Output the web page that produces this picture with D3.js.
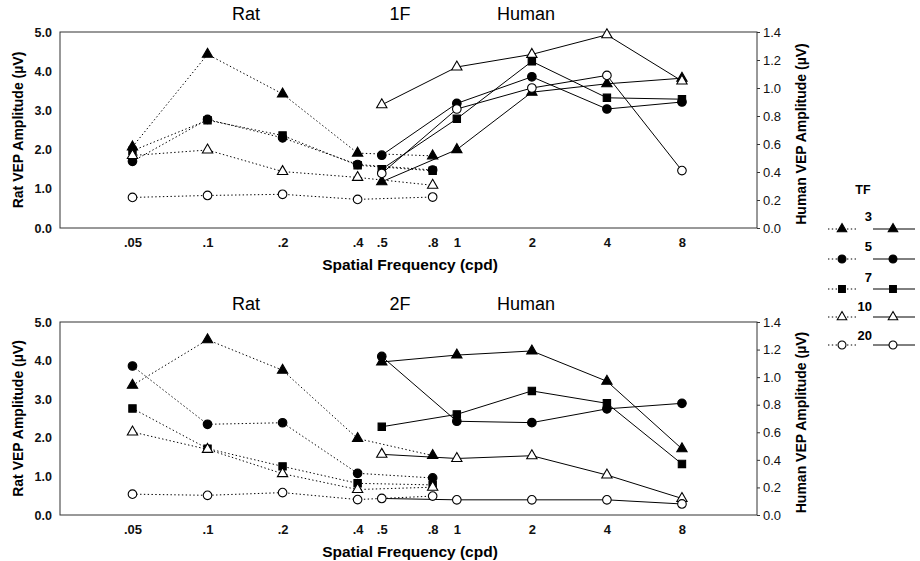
<!DOCTYPE html>
<html>
<head>
<meta charset="utf-8">
<script src="https://cdn.jsdelivr.net/npm/d3@7"></script>
<style>
  html, body { margin: 0; padding: 0; background: #fff; }
  svg { display: block; font-family: "Liberation Sans", Arial, Helvetica, sans-serif; }
</style>
</head>
<body>
<svg id="chart" width="920" height="561"></svg>
<script>
// Temporal frequencies (Hz) shown in the legend, one series each
const tfLabels = ["3", "5", "7", "10", "20"];
const tfSymbols = ["triangle", "circle", "square", "triangle", "circle"];
const tfFilled = [true, true, true, false, false];

// Spatial frequencies (cpd) sampled for each species
const ratFreqs = [0.05, 0.1, 0.2, 0.4, 0.8];
const humanFreqs = [0.5, 1, 2, 4, 8];

// X tick values and labels
const xTickValues = [0.05, 0.1, 0.2, 0.4, 0.5, 0.8, 1, 2, 4, 8];
const xTickLabels = [".05", ".1", ".2", ".4", ".5", ".8", "1", "2", "4", "8"];

// Y tick values (left: rat, right: human)
const ratTicks = [0, 1, 2, 3, 4, 5];
const humanTicks = [0, 0.2, 0.4, 0.6, 0.8, 1.0, 1.2, 1.4];

// 1F response amplitudes (µV), one row per TF: 3, 5, 7, 10, 20
const rat1F = [
  [2.07, 4.43, 3.42, 1.91, 1.84],
  [1.70, 2.77, 2.30, 1.62, 1.48],
  [1.97, 2.75, 2.36, 1.60, 1.46],
  [1.85, 1.99, 1.44, 1.29, 1.09],
  [0.78, 0.83, 0.86, 0.73, 0.79]
];
const human1F = [
  [0.33, 0.56, 0.97, 1.03, 1.07],
  [0.52, 0.89, 1.08, 0.85, 0.90],
  [0.42, 0.78, 1.19, 0.93, 0.92],
  [0.88, 1.15, 1.24, 1.38, 1.05],
  [0.39, 0.85, 1.00, 1.09, 0.41]
];

// 2F response amplitudes (µV), one row per TF: 3, 5, 7, 10, 20
const rat2F = [
  [3.36, 4.54, 3.75, 1.98, 1.54],
  [3.86, 2.35, 2.39, 1.08, 0.96],
  [2.76, 1.72, 1.26, 0.82, 0.78],
  [2.15, 1.70, 1.07, 0.66, 0.72],
  [0.54, 0.51, 0.58, 0.40, 0.49]
];
const human2F = [
  [1.11, 1.16, 1.19, 0.97, 0.48],
  [1.15, 0.68, 0.67, 0.77, 0.81],
  [0.64, 0.73, 0.90, 0.81, 0.37],
  [0.44, 0.41, 0.43, 0.29, 0.12],
  [0.12, 0.11, 0.11, 0.11, 0.08]
];

const svg = d3.select("#chart");
const FONT = "'Liberation Sans', Arial, Helvetica, sans-serif";

const plotLeft = 60, plotRight = 757;
const x = d3.scaleLog().domain([0.0256, 16]).range([plotLeft, plotRight]);

const symbolTypes = {
  triangle: d3.symbolTriangle,
  circle: d3.symbolCircle,
  square: d3.symbolSquare
};
const symbolSizes = { triangle: 46, circle: 58, square: 54 };

function markerPath(i, scale) {
  const s = tfSymbols[i];
  return d3.symbol().type(symbolTypes[s]).size(symbolSizes[s] * (scale || 1))();
}

function drawMarker(g, i, cx, cy, scale) {
  g.append("path")
    .attr("d", markerPath(i, scale))
    .attr("transform", `translate(${cx},${cy})`)
    .attr("fill", tfFilled[i] ? "#000" : "#fff")
    .attr("stroke", "#000")
    .attr("stroke-width", 1.1);
}

function drawPanel(top, bottom, title, ratData, humanData) {
  const g = svg.append("g");
  const yRat = d3.scaleLinear().domain([0, 5]).range([bottom, top]);
  const yHum = d3.scaleLinear().domain([0, 1.4]).range([bottom, top]);

  // frame
  g.append("rect")
    .attr("x", plotLeft).attr("y", top)
    .attr("width", plotRight - plotLeft).attr("height", bottom - top)
    .attr("fill", "none").attr("stroke", "#333").attr("stroke-width", 1);

  // left axis (rat)
  const leftAxis = d3.axisLeft(yRat).tickValues(ratTicks)
    .tickFormat(d3.format(".1f")).tickSize(0).tickPadding(8);
  const la = g.append("g").attr("transform", `translate(${plotLeft},0)`).call(leftAxis);
  la.select(".domain").remove();
  la.selectAll("text").attr("font-size", 12.5).attr("font-weight", "bold").attr("fill", "#111")
    .attr("font-family", FONT);

  // right axis (human)
  const rightAxis = d3.axisRight(yHum).tickValues(humanTicks)
    .tickFormat(d3.format(".1f")).tickSize(3).tickPadding(3);
  const ra = g.append("g").attr("transform", `translate(${plotRight},0)`).call(rightAxis);
  ra.select(".domain").remove();
  ra.selectAll("line").attr("stroke", "#333");
  ra.selectAll("text").attr("font-size", 13).attr("fill", "#111")
    .attr("font-family", FONT);

  // bottom axis
  const bottomAxis = d3.axisBottom(x).tickValues(xTickValues)
    .tickFormat((d, i) => xTickLabels[i]).tickSize(0).tickPadding(10);
  const ba = g.append("g").attr("transform", `translate(0,${bottom})`).call(bottomAxis);
  ba.select(".domain").remove();
  ba.selectAll("text").attr("font-size", 13).attr("font-weight", "bold").attr("fill", "#111")
    .attr("font-family", FONT);

  // axis titles
  g.append("text")
    .attr("x", 410).attr("y", bottom + 42)
    .attr("text-anchor", "middle").attr("font-size", 15.5).attr("font-weight", "bold")
    .text("Spatial Frequency (cpd)");
  g.append("text")
    .attr("transform", `translate(23,${(top + bottom) / 2}) rotate(-90)`)
    .attr("text-anchor", "middle").attr("font-size", 14).attr("font-weight", "bold")
    .text("Rat VEP Amplitude (\u00b5V)");
  g.append("text")
    .attr("transform", `translate(806,${(top + bottom) / 2 + 4}) rotate(-90)`)
    .attr("text-anchor", "middle").attr("font-size", 14).attr("font-weight", "bold")
    .text("Human VEP Amplitude (\u00b5V)");

  // panel headings
  const headY = top - 12;
  g.append("text").attr("x", 246).attr("y", headY).attr("text-anchor", "middle")
    .attr("font-size", 18).text("Rat");
  g.append("text").attr("x", 400).attr("y", headY).attr("text-anchor", "middle")
    .attr("font-size", 18).text(title);
  g.append("text").attr("x", 526).attr("y", headY).attr("text-anchor", "middle")
    .attr("font-size", 18).text("Human");

  // series lines
  const ratLine = d3.line().x((d, j) => x(ratFreqs[j])).y(d => yRat(d));
  const humLine = d3.line().x((d, j) => x(humanFreqs[j])).y(d => yHum(d));

  ratData.forEach(row => {
    g.append("path").attr("d", ratLine(row))
      .attr("fill", "none").attr("stroke", "#000").attr("stroke-width", 1)
      .attr("stroke-dasharray", "1.4,2.4");
  });
  humanData.forEach(row => {
    g.append("path").attr("d", humLine(row))
      .attr("fill", "none").attr("stroke", "#000").attr("stroke-width", 1);
  });

  // markers
  [0, 1, 2, 3, 4].forEach(i => {
    ratData[i].forEach((v, j) => drawMarker(g, i, x(ratFreqs[j]), yRat(v)));
    humanData[i].forEach((v, j) => drawMarker(g, i, x(humanFreqs[j]), yHum(v)));
  });
}

drawPanel(32, 228, "1F", rat1F, human1F);
drawPanel(322, 515, "2F", rat2F, human2F);

// legend
const lg = svg.append("g");
lg.append("text").attr("x", 863).attr("y", 194).attr("text-anchor", "middle")
  .attr("font-size", 12.5).attr("font-weight", "bold").text("TF");
const legendLabelY = [221, 251, 282, 311, 340];
const legendMarkY = [229, 259, 289, 317, 345];
tfLabels.forEach((lab, i) => {
  lg.append("text").attr("x", 872).attr("y", legendLabelY[i]).attr("text-anchor", "end")
    .attr("font-size", 13).attr("font-weight", "bold").text(lab);
  const my = legendMarkY[i];
  lg.append("line").attr("x1", 828).attr("x2", 858).attr("y1", my).attr("y2", my)
    .attr("stroke", "#000").attr("stroke-width", 1).attr("stroke-dasharray", "1.4,2.4");
  lg.append("line").attr("x1", 873).attr("x2", 915).attr("y1", my).attr("y2", my)
    .attr("stroke", "#000").attr("stroke-width", 1);
  drawMarker(lg, i, 842, my, 0.85);
  drawMarker(lg, i, 893, my, 0.85);
});
</script>
</body>
</html>
